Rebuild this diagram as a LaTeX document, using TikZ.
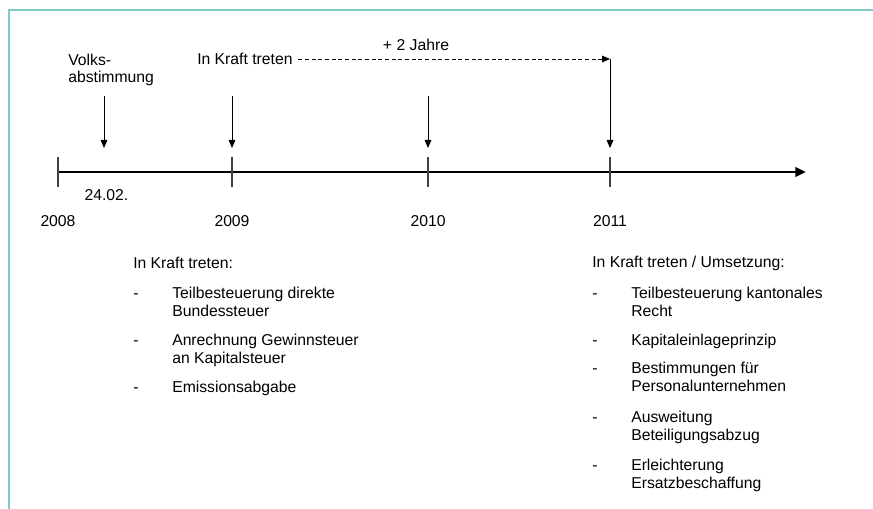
\documentclass[tikz,border=0pt]{standalone}
\usepackage{fontspec}
\setmainfont{Liberation Sans}
\usetikzlibrary{arrows.meta}
\definecolor{rahmen}{RGB}{128,200,202}
\newcommand{\eintrag}[1]{\begin{tabular}{@{}p{29.25pt}@{}l@{}}-&#1\end{tabular}}

\begin{document}
\begin{tikzpicture}[x=0.75pt,y=-0.75pt,
  every node/.style={inner sep=0pt,font=\fontsize{11.8}{13.4}\selectfont},
  pfeil/.style={black,line width=0.7pt,-{Triangle[length=6pt,width=5pt]}},
  strich/.style={black!75,line width=0.8pt},
  titel/.style={anchor=west,align=left},
  punkt/.style={anchor=north west}]
\useasboundingbox (0,0) rectangle (873,509);
\draw [rahmen,line width=1.6pt] (9,509) -- (9,10) -- (873,10);
% Zeitachse
\coordinate (anfang) at (58,172);
\coordinate (ende) at (806,172);
\draw [black,line width=2.2pt,-{Triangle[length=8pt,width=7pt]}] (anfang) -- (ende);
\foreach \x/\jahr in {58/2008,232/2009,428/2010,610/2011}{
  \draw [strich] (\x,157) -- (\x,187);
  \node (j\jahr) at (\x,221) {\jahr};
}
\node (datum) at (106.5,195) {24.02.};
% Ereignisse
\node [titel] (volks) at (68,70) {Volks-\\abstimmung};
\coordinate (v0) at (104,96);
\coordinate (v1) at (104,148);
\draw [pfeil] (v0) -- (v1);
\node [titel] (kraft) at (197,59) {In Kraft treten};
\coordinate (k0) at (232,96);
\coordinate (k1) at (232,148);
\draw [pfeil] (k0) -- (k1);
\coordinate (m0) at (428,96);
\coordinate (m1) at (428,148);
\draw [pfeil] (m0) -- (m1);
\coordinate (e0) at (610,59);
\coordinate (e1) at (610,148);
\draw [pfeil,dash pattern=on 3pt off 2pt] ([xshift=4pt]kraft.east) -- (e0);
\draw [pfeil] (e0) -- (e1);
\node (jahre) at (416,45) {+ 2 Jahre};
% 2009
\node [titel] (links) at (133,263) {In Kraft treten:};
\node [punkt] (l1) at (133,286) {\eintrag{Teilbesteuerung direkte\\&Bundessteuer}};
\node [punkt] (l2) at (133,333) {\eintrag{Anrechnung Gewinnsteuer\\&an Kapitalsteuer}};
\node [punkt] (l3) at (133,380) {\eintrag{Emissionsabgabe}};
% 2011
\node [titel] (rechts) at (592,263) {In Kraft treten / Umsetzung:};
\node [punkt] (r1) at (592,286) {\eintrag{Teilbesteuerung kantonales\\&Recht}};
\node [punkt] (r2) at (592,333) {\eintrag{Kapitaleinlageprinzip}};
\node [punkt] (r3) at (592,361) {\eintrag{Bestimmungen für\\&Personalunternehmen}};
\node [punkt] (r4) at (592,410) {\eintrag{Ausweitung\\&Beteiligungsabzug}};
\node [punkt] (r5) at (592,458) {\eintrag{Erleichterung\\&Ersatzbeschaffung}};
\end{tikzpicture}
\end{document}
